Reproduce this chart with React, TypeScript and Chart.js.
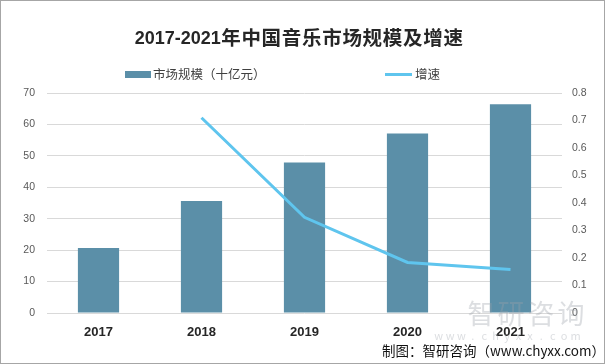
import React, { useEffect, useRef } from "react";
import { Chart, registerables } from "chart.js";

Chart.register(...registerables);

const categories = ["2017", "2018", "2019", "2020", "2021"];
const marketSize = [20.7, 35.6, 47.9, 57.1, 66.4];
const growthRate = [null, 0.71, 0.348, 0.184, 0.158];
const seriesNames = ["市场规模（十亿元）", "增速"];
const titleText = "2017-2021年中国音乐市场规模及增速";
const sourceText = "制图：智研咨询（www.chyxx.com）";
const watermarkMain = "智研咨询";
const watermarkSub = "www.chyxx.com";

const BAR_COLOR = "#5b8fa8";
const LINE_COLOR = "#5fc5ee";
const CJK = '"Noto Sans CJK SC", "Noto Sans", sans-serif';

function spaced(ctx: any, text: string, x: number, y: number, advance: number) {
  const chars = Array.from(text);
  chars.forEach((c, i) => {
    const w = ctx.measureText(c).width;
    ctx.fillText(c, x + i * advance + (advance - w) / 2, y);
  });
}

const decorPlugin = {
  id: "decor",
  beforeDraw(chart: any) {
    const { ctx } = chart;
    ctx.save();
    ctx.fillStyle = "#ffffff";
    ctx.fillRect(0, 0, chart.width, chart.height);
    // title
    const m = titleText.match(/^[\x00-\x7f]+/);
    const latin = m ? m[0] : "";
    const rest = titleText.slice(latin.length);
    ctx.fillStyle = "#262626";
    ctx.textBaseline = "middle";
    ctx.textAlign = "left";
    ctx.font = 'bold 18px "Liberation Sans", sans-serif';
    const wl = ctx.measureText(latin).width;
    const adv = 20.2;
    const wr = Array.from(rest).length * adv;
    const x0 = 299 - (wl + wr) / 2;
    ctx.fillText(latin, x0, 39);
    ctx.font = "bold 19.5px " + CJK;
    spaced(ctx, rest, x0 + wl, 38, adv);

    // legend
    const ds = chart.data.datasets;
    ctx.font = "12.5px " + CJK;
    ctx.fillStyle = ds[0].backgroundColor;
    ctx.fillRect(125, 71, 26, 7);
    ctx.fillStyle = "#404040";
    ctx.fillText(ds[0].label, 153, 74.5);
    ctx.strokeStyle = ds[1].borderColor;
    ctx.lineWidth = 3;
    ctx.beginPath();
    ctx.moveTo(385, 74.5);
    ctx.lineTo(412, 74.5);
    ctx.stroke();
    ctx.fillText(ds[1].label, 415, 74.5);
    ctx.restore();
  },
  afterDraw(chart: any) {
    const { ctx } = chart;
    ctx.save();
    // watermark
    ctx.globalAlpha = 0.35;
    ctx.fillStyle = "#9aa0a8";
    ctx.textBaseline = "middle";
    ctx.textAlign = "left";
    ctx.font = "27px " + CJK;
    spaced(ctx, watermarkMain, 466, 314, 30);
    ctx.font = "11px " + CJK;
    spaced(ctx, watermarkSub, 433, 336, 11.4);
    ctx.globalAlpha = 1;
    // source
    ctx.fillStyle = "#111111";
    ctx.textAlign = "right";
    ctx.font = "13.5px " + CJK;
    ctx.fillText(sourceText, 605, 351);
    // border
    ctx.strokeStyle = "#a6a6a6";
    ctx.lineWidth = 1;
    ctx.strokeRect(0.5, 0.5, chart.width - 1, chart.height - 1);
    ctx.restore();
  },
};

export default function App() {
  const ref = useRef<HTMLCanvasElement>(null);
  useEffect(() => {
    if (!ref.current) return;
    const chart = new Chart(ref.current, {
      type: "bar",
      data: {
        labels: categories,
        datasets: [
          {
            type: "bar",
            label: seriesNames[0],
            data: marketSize,
            backgroundColor: BAR_COLOR,
            yAxisID: "y",
            order: 2,
            barPercentage: 0.4,
            categoryPercentage: 1,
          },
          {
            type: "line",
            label: seriesNames[1],
            data: growthRate as any,
            borderColor: LINE_COLOR,
            backgroundColor: LINE_COLOR,
            borderWidth: 3,
            pointRadius: 0,
            tension: 0,
            yAxisID: "y1",
            order: 1,
          },
        ],
      },
      options: {
        animation: false,
        responsive: false,
        layout: { padding: { top: 93, left: 0, right: 0, bottom: 0 } },
        plugins: {
          legend: { display: false },
          title: { display: false },
          tooltip: { enabled: false },
        },
        scales: {
          x: {
            grid: { display: false },
            border: { display: false },
            ticks: {
              color: "#262626",
              font: { family: '"Liberation Sans", sans-serif', size: 13, weight: "bold" },
              padding: 4,
            },
            afterFit(s: any) {
              s.height = 51;
            },
          },
          y: {
            position: "left",
            min: 0,
            max: 70,
            ticks: {
              stepSize: 10,
              color: "#595959",
              font: { family: '"Liberation Sans", sans-serif', size: 10.5 },
              padding: 12,
            },
            grid: { color: "#d9d9d9", lineWidth: 1, drawTicks: false },
            border: { display: false },
            afterFit(s: any) {
              s.width = 47;
            },
          },
          y1: {
            position: "right",
            min: 0,
            max: 0.8,
            ticks: {
              stepSize: 0.1,
              color: "#595959",
              font: { family: '"Liberation Sans", sans-serif', size: 10.5 },
              padding: 10,
            },
            grid: { display: false, drawTicks: false },
            border: { display: false },
            afterFit(s: any) {
              s.width = 43;
            },
          },
        },
      },
      plugins: [decorPlugin],
    });
    return () => chart.destroy();
  }, []);
  return (
    <div style={{ position: "absolute", left: 0, top: 0, width: 605, height: 364 }}>
      <canvas ref={ref} width={605} height={364} style={{ display: "block" }} />
    </div>
  );
}
